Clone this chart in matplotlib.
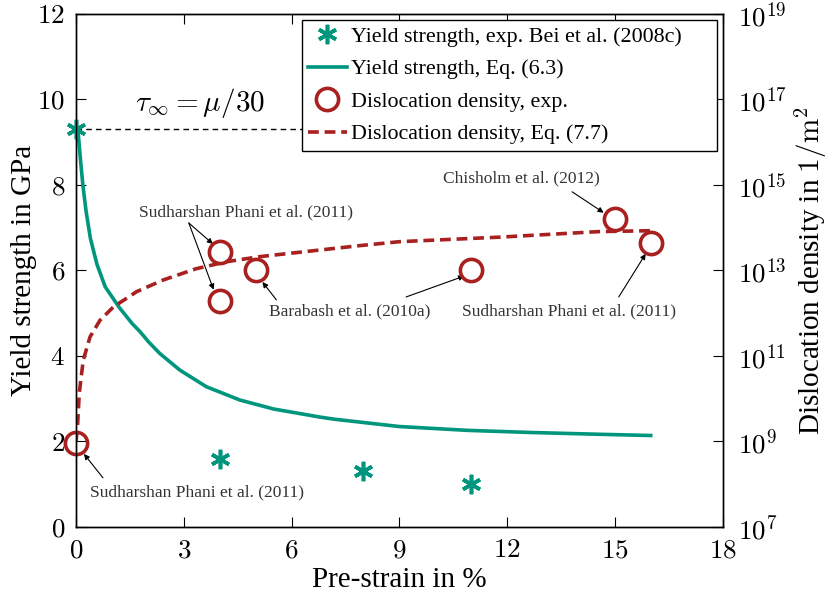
"""
Yield strength and dislocation density over pre-strain
"""

import matplotlib
matplotlib.use('Agg')
import matplotlib.pyplot as plt
from matplotlib.lines import Line2D

plt.rcParams['font.family'] = ['Liberation Serif', 'DejaVu Serif']
plt.rcParams['mathtext.fontset'] = 'cm'

green = '#00957d'
red = '#a8201f'

# Yield strength, experiments (GPa)
strain_ys_exp = [0, 4, 8, 11]
ys_exp = [9.3, 1.6, 1.3, 1.0]

# Yield strength, Eq. (6.3)
strain_ys_eq = [0.0, 0.056, 0.12, 0.19, 0.28, 0.40, 0.58, 0.81, 1.19, 1.56,
                1.78, 2.02, 2.33, 2.89, 3.63, 4.56, 5.5, 6.8, 7.2, 9.0,
                10.9, 12.7, 14.5, 16.0]
ys_eq = [9.3, 9.25, 8.62, 8.0, 7.38, 6.75, 6.15, 5.62, 5.15, 4.76,
         4.57, 4.33, 4.06, 3.67, 3.28, 2.97, 2.76, 2.57, 2.52, 2.35,
         2.26, 2.21, 2.17, 2.14]

# Dislocation density, experiments (1/m^2)
strain_rho_exp = [0, 4, 4, 5, 11, 15, 16]
rho_exp = [9.1e8, 2.7e13, 1.95e12, 1.0e13, 1.0e13, 1.6e14, 4.4e13]

# Dislocation density, Eq. (7.7)
strain_rho_eq = [0.0, 0.04, 0.09, 0.2, 0.39, 0.67, 1.04, 1.69, 2.43, 3.35,
                 4.19, 5.11, 7.89, 9.0, 11.78, 14.56, 16.0]
rho_eq = [1.0e9, 2.2e9, 1.35e10, 7.9e10, 2.8e11, 6.9e11, 1.4e12, 3.2e12,
          6.0e12, 1.1e13, 1.6e13, 2.1e13, 3.8e13, 4.7e13, 6.0e13, 8.1e13,
          8.5e13]

tau_inf = 9.3

x_ticks = [0, 3, 6, 9, 12, 15, 18]
y_ticks = [0, 2, 4, 6, 8, 10, 12]
rho_ticks = [1e7, 1e9, 1e11, 1e13, 1e15, 1e17, 1e19]

fig = plt.figure(figsize=(8.31, 6.03), dpi=100)
ax = fig.add_axes([0.0915, 0.126, 0.778, 0.851])
ax2 = ax.twinx()

ax.plot([0, 16], [tau_inf, tau_inf], color='k', lw=1.0, ls=(0, (4, 3)),
        zorder=1)
ax.plot(strain_ys_eq, ys_eq, color=green, lw=2.6, zorder=2)
ax.plot(strain_ys_exp, ys_exp, ls='none', marker=(6, 2, 0), ms=14,
        mew=2.6, color=green, zorder=3, clip_on=False)

ax2.plot(strain_rho_eq, rho_eq, color=red, lw=2.6, ls=(0, (3.0, 1.6)))
ax2.plot(strain_rho_exp, rho_exp, ls='none', marker='o', ms=16, mew=2.6,
         mfc='none', mec=red, clip_on=False)

ax.text(3.44, 9.92, r'$\tau_\infty = \mu/30$', fontsize=21,
        ha='center', va='center')

# Literature sources of the dislocation densities
note = dict(fontsize=12.5, color='#333333', ha='center', va='center')
arrow = dict(arrowstyle='-|>', color='k', lw=0.8, mutation_scale=8,
             shrinkA=0, shrinkB=0)
ax.text(4.72, 7.35, 'Sudharshan Phani et al. (2011)', **note)
ax.annotate('', xy=(3.81, 6.62), xytext=(3.14, 7.11), arrowprops=arrow)
ax.annotate('', xy=(3.83, 5.55), xytext=(3.14, 7.11), arrowprops=arrow)
ax.text(7.61, 5.04, 'Barabash et al. (2010a)', **note)
ax.annotate('', xy=(5.19, 5.73), xytext=(5.58, 5.31), arrowprops=arrow)
ax.annotate('', xy=(10.81, 5.87), xytext=(9.19, 5.38), arrowprops=arrow)
ax.text(12.39, 8.16, 'Chisholm et al. (2012)', **note)
ax.annotate('', xy=(14.69, 7.35), xytext=(13.81, 7.84), arrowprops=arrow)
ax.text(13.72, 5.04, 'Sudharshan Phani et al. (2011)', **note)
ax.annotate('', xy=(15.86, 6.39), xytext=(15.11, 5.38), arrowprops=arrow)
ax.text(3.36, 0.82, 'Sudharshan Phani et al. (2011)', **note)
ax.annotate('', xy=(0.22, 1.71), xytext=(0.75, 1.15), arrowprops=arrow)

ax.set_xlim(0, 18)
ax.set_ylim(0, 12)
ax.set_xticks(x_ticks)
ax.set_xticklabels(['$%d$' % t for t in x_ticks])
ax.set_yticks(y_ticks)
ax.set_yticklabels(['$%d$' % t for t in y_ticks])
ax.tick_params(direction='in', length=7, width=0.8, labelsize=19.5,
               top=True, right=False, pad=8)
ax.set_xlabel('Pre-strain in %', fontsize=21, labelpad=3)
ax.set_ylabel('Yield strength in GPa', fontsize=21, labelpad=0)

ax2.set_yscale('log')
ax2.set_ylim(1e7, 1e19)
ax2.set_yticks(rho_ticks)
ax2.set_yticklabels([r'$10^{%d}$' % (7 + 2 * i)
                     for i in range(len(rho_ticks))])
ax2.minorticks_off()
ax2.tick_params(direction='in', length=7, width=0.8, labelsize=19.5,
                pad=11)
ax2.set_ylabel(r'Dislocation density in $1/\mathrm{m}^2$', fontsize=21,
               labelpad=4)

for a in (ax, ax2):
    for s in a.spines.values():
        s.set_linewidth(1.0)

handles = [
    Line2D([], [], ls='none', marker=(6, 2, 0), ms=14, mew=2.6, color=green),
    Line2D([], [], color=green, lw=2.6),
    Line2D([], [], ls='none', marker='o', ms=16, mew=2.6, mfc='none',
           mec=red),
    Line2D([], [], color=red, lw=2.6, ls=(0, (3.0, 1.6))),
]
labels = ['Yield strength, exp. Bei et al. (2008c)',
          'Yield strength, Eq. (6.3)',
          'Dislocation density, exp.',
          'Dislocation density, Eq. (7.7)']
leg = ax2.legend(handles, labels, loc='upper left',
                 bbox_to_anchor=(0.349, 0.988, 0.643, 0.0), mode='expand',
                 fontsize=15.8, fancybox=False, framealpha=1, edgecolor='k',
                 handlelength=1.75, handletextpad=0.2, borderpad=0.3,
                 labelspacing=0.55, borderaxespad=0)
leg.get_frame().set_linewidth(1.0)

fig.savefig('out.png', dpi=100)
